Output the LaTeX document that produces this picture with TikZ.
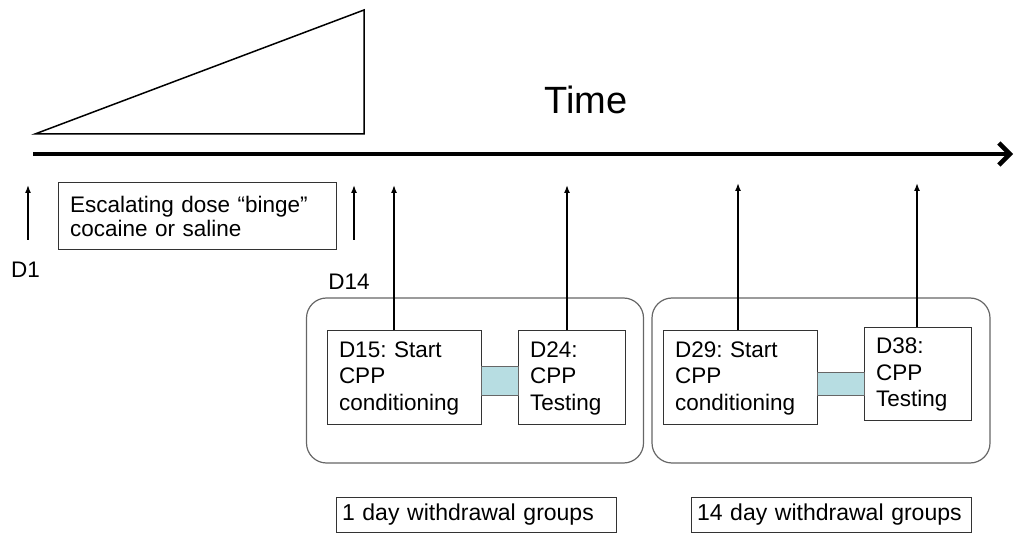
\documentclass[tikz,border=0pt]{standalone}
\usepackage{fontspec}
\setmainfont{Liberation Sans}
\usetikzlibrary{positioning, arrows.meta, calc}
\definecolor{linkblue}{RGB}{183,221,226}
\frenchspacing

\begin{document}
\begin{tikzpicture}[x=1pt, y=-1pt,
    textbox/.style={draw=black!80, line width=1pt, align=left, font=\fontsize{22.5}{26.5}\selectfont, inner xsep=12pt, inner ysep=0pt, minimum height=94pt},
    groupbox/.style={draw=black!60, line width=1.2pt, rounded corners=20pt, minimum width=337pt, minimum height=165pt},
    linkbox/.style={draw=black!60, fill=linkblue, line width=1pt, minimum height=28pt},
    labelbox/.style={draw=black!80, line width=1pt, align=left, font=\fontsize{23}{26}\selectfont, text width=268pt, inner xsep=6pt, minimum height=35pt},
    uparrow/.style={line width=1.5pt, -{Latex[length=8pt,width=6pt]}},
    daylabel/.style={font=\fontsize{22.5}{26}\selectfont, inner sep=0pt}
]
\useasboundingbox (0,0) rectangle (1015,534);

% dose ramp and time axis
\draw[line width=1.5pt, line join=miter] (35,134) -- (364,134) -- (364,10) -- cycle;
\coordinate (t0) at (33,154);
\coordinate (t1) at (1013,154);
\draw[line width=4.5pt, -{Straight Barb[length=11pt,width=22pt]}] (t0) -- (t1);
\node[font=\fontsize{38}{40}\selectfont] (time) at (586,100) {Time};

% binge period
\node[textbox, text width=254pt, minimum height=67pt, font=\fontsize{22.5}{24}\selectfont] (binge) at (197,216.5) {Escalating dose “binge”\\cocaine or saline};
\coordinate (d1base) at (28,240);
\coordinate (d1top) at (28,185);
\coordinate (d14base) at (354,240);
\coordinate (d14top) at (354,185);
\draw[uparrow] (d1base) -- (d1top);
\draw[uparrow] (d14base) -- (d14top);
\node[daylabel] (d1) at (25.5,270) {D1};
\node[daylabel] (d14) at (349,282) {D14};

% withdrawal groups
\node[groupbox] (grp1) at (475,380.5) {};
\node[groupbox, minimum width=338pt] (grp2) at (821,380.5) {};

\node[textbox, text width=130pt] (d15) at (404,378) {D15: Start\\CPP\\conditioning};
\node[textbox, text width=83pt] (d24) at (571.5,378) {D24:\\CPP\\Testing};
\node[textbox, text width=130pt] (d29) at (740,378) {D29: Start\\CPP\\conditioning};
\node[textbox, text width=83pt, minimum height=93pt] (d38) at (917.5,374.5) {D38:\\CPP\\Testing};

\node[linkbox, minimum width=37pt, minimum height=29pt] (link1) at (499.5,381.5) {};
\node[linkbox, minimum width=47pt, minimum height=23pt] (link2) at (840.5,384.5) {};

\coordinate (p15) at (394,185);
\coordinate (p24) at (567,185);
\coordinate (p29) at (738,183);
\coordinate (p38) at (917,183);
\draw[uparrow] (d15.north -| p15) -- (p15);
\draw[uparrow] (d24.north -| p24) -- (p24);
\draw[uparrow] (d29.north -| p29) -- (p29);
\draw[uparrow] (d38.north -| p38) -- (p38);

\node[labelbox] (lab1) at (476,514.5) {1 day withdrawal groups};
\node[labelbox] (lab2) at (831,514.5) {14 day withdrawal groups};
\end{tikzpicture}
\end{document}
